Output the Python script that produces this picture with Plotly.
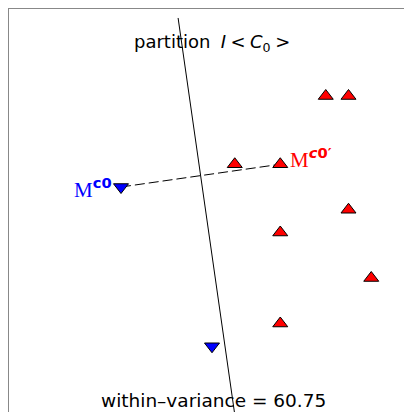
import plotly.graph_objects as go

# data (grid units)
red_x = [10, 11, 6, 8, 11, 8, 12, 8]
red_y = [12, 12, 9, 9, 7, 6, 4, 2]
blue_x = [1, 5]
blue_y = [8, 1]
m_c0 = (1, 8)
m_c0p = (8, 9)

mx, my = (m_c0[0] + m_c0p[0]) / 2, (m_c0[1] + m_c0p[1]) / 2
dxv, dyv = m_c0p[0] - m_c0[0], m_c0p[1] - m_c0[1]
bis_y = [15.43, -3]
bis_x = [mx - (yy - my) * dyv / dxv for yy in bis_y]

u = 22.75
X0, Y0 = 98.25, 369.0  # page pixel of grid origin


def dx(px):
    return (px - X0) / u


def dy(py):
    return (Y0 - py) / u


fig = go.Figure()
fig.add_trace(go.Scatter(x=bis_x, y=bis_y, mode="lines",
                         line=dict(color="black", width=1), hoverinfo="skip"))
fig.add_trace(go.Scatter(x=[m_c0[0], m_c0p[0]], y=[m_c0[1], m_c0p[1]], mode="lines",
                         line=dict(color="black", width=1, dash="10px,4px"), hoverinfo="skip"))
fig.add_trace(go.Scatter(x=red_x, y=red_y, mode="markers",
                         marker=dict(symbol="triangle-up", size=13, color="red",
                                     line=dict(color="black", width=1))))
fig.add_trace(go.Scatter(x=blue_x, y=blue_y, mode="markers",
                         marker=dict(symbol="triangle-down", size=13, color="blue",
                                     line=dict(color="black", width=1))))

sp = "\u2005"
fig.update_layout(
    width=412, height=412, showlegend=False,
    margin=dict(l=1, r=0, t=1, b=0),
    plot_bgcolor="white", paper_bgcolor="white",
    xaxis=dict(range=[dx(9), dx(420)], showgrid=False, zeroline=False,
               showticklabels=False, ticks="", showline=True, linecolor="#888888",
               linewidth=1, side="top", mirror=False),
    yaxis=dict(range=[dy(420), dy(9)], showgrid=False, zeroline=False,
               showticklabels=False, ticks="", showline=True, linecolor="#888888",
               linewidth=1, mirror=False),
    annotations=[
        dict(x=dx(212), y=dy(43), xref="x", yref="y",
             text=f"partition {sp}<i>I</i>{sp}&lt;{sp}<i>C</i><sub>0</sub>{sp}&gt;", showarrow=False,
             font=dict(family="DejaVu Sans", size=18, color="black")),
        dict(x=dx(213), y=dy(400), xref="x", yref="y",
             text="within–variance = 60.75", showarrow=False,
             font=dict(family="DejaVu Sans", size=18.5, color="black")),
        dict(x=dx(114), y=dy(188), xref="x", yref="y", xanchor="right",
             text="M<sup><span style='font-family:DejaVu Sans'><b>c0</b></span></sup>", showarrow=False,
             font=dict(family="Liberation Serif", size=21, color="blue")),
        dict(x=dx(288), y=dy(158), xref="x", yref="y", xanchor="left",
             text="M<sup><span style='font-family:DejaVu Sans'><b><i>c</i>0′</b></span></sup>", showarrow=False,
             font=dict(family="Liberation Serif", size=21, color="red")),
    ],
)
fig.write_html("out.html")
